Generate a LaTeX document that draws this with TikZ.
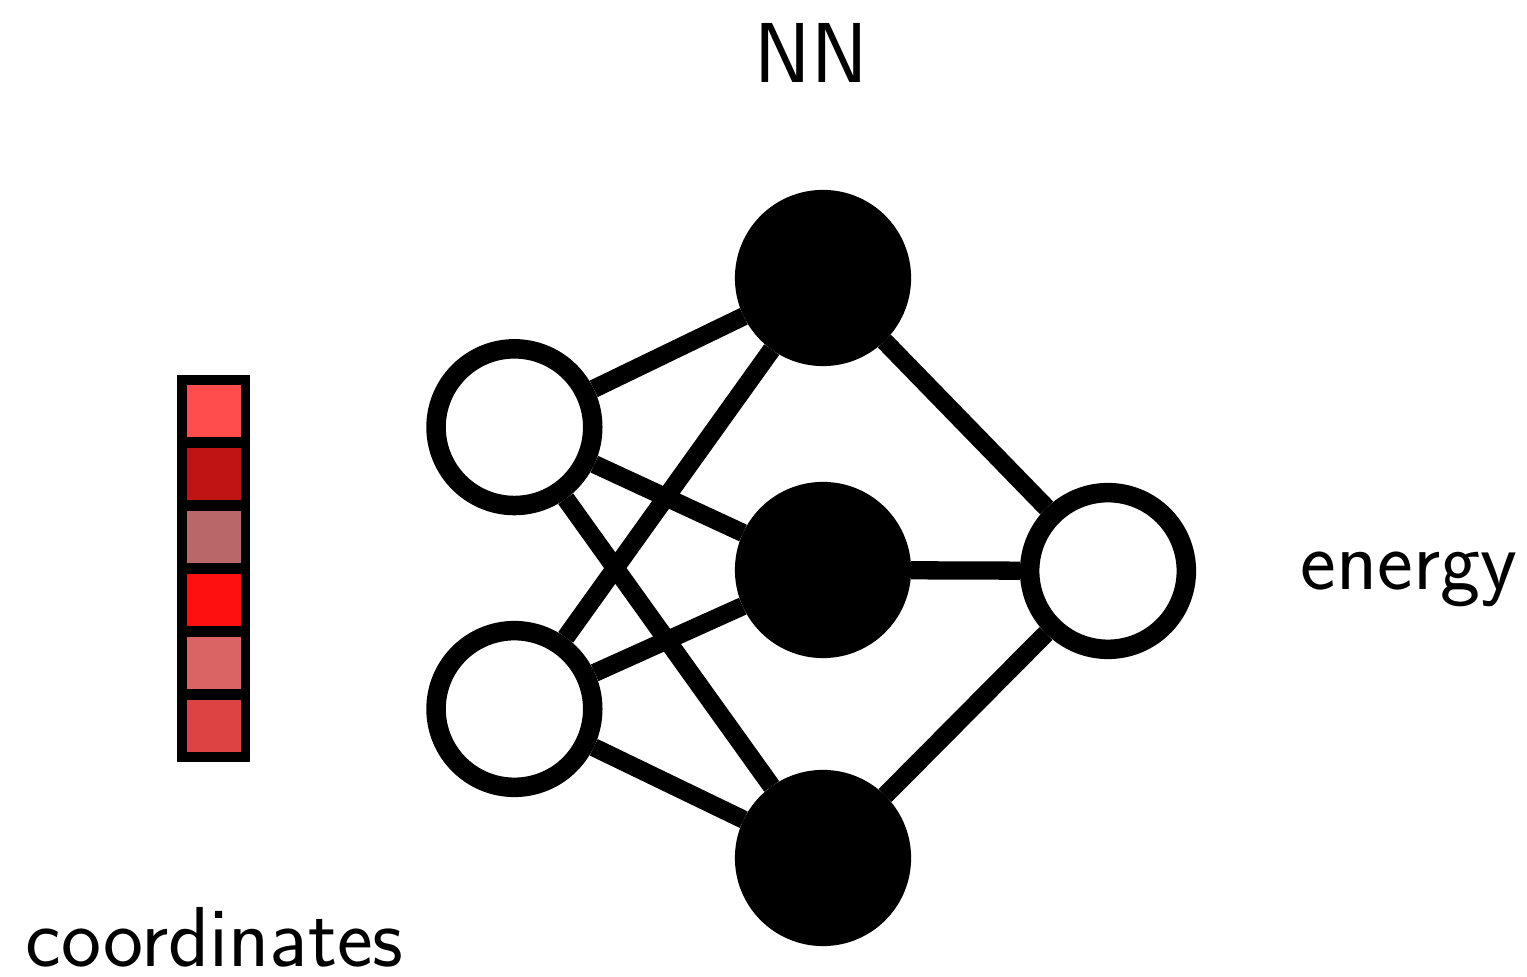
\documentclass[tikz,border=0pt]{standalone}
\usetikzlibrary{positioning}
\definecolor{sqA}{HTML}{FF4D4D}
\definecolor{sqB}{HTML}{BE1414}
\definecolor{sqC}{HTML}{B86868}
\definecolor{sqD}{HTML}{FF1010}
\definecolor{sqE}{HTML}{DA6464}
\definecolor{sqF}{HTML}{DC4444}
\tikzset{
  neuron/.style={circle, draw=black, line width=5.55pt, inner sep=0pt, minimum size=1.566cm, fill=white},
  hidden/.style={neuron, fill=black},
  conn/.style={line width=5.2pt, black},
  lbl/.style={font=\sffamily\fontsize{24.2}{29}\selectfont, inner sep=0pt},
  sq/.style={inner sep=0pt, minimum width=0.54cm, minimum height=0.52cm, draw=none}
}
\begin{document}
\begin{tikzpicture}[x=0.01cm, y=-0.01cm]
\useasboundingbox (0,0) rectangle (1527,977);
% input vector
\node[fill=black, inner sep=0pt, minimum width=0.73cm, minimum height=3.87cm] (vec) at (213.5,568.5) {};
\node[sq, fill=sqA] (c1) at (214,411) {};
\node[sq, fill=sqB] (c2) at (214,474) {};
\node[sq, fill=sqC] (c3) at (214,537) {};
\node[sq, fill=sqD] (c4) at (214,600) {};
\node[sq, fill=sqE] (c5) at (214,663) {};
\node[sq, fill=sqF] (c6) at (214,726) {};
% network
\node[neuron] (i1) at (514.4,427.2) {};
\node[neuron] (i2) at (514.4,709) {};
\node[hidden] (h1) at (823,278) {};
\node[hidden] (h2) at (823,570) {};
\node[hidden] (h3) at (823,858) {};
\node[neuron] (o) at (1108,571) {};
\foreach \a in {i1,i2}{\foreach \b in {h1,h2,h3}{\draw[conn] (\a) -- (\b);}}
\foreach \b in {h1,h2,h3}{\draw[conn] (\b) -- (o);}
% labels
\node[lbl, anchor=base] (nn) at (811,83) {NN};
\node[lbl, anchor=base west] (en) at (1300,590) {energy};
\node[lbl, anchor=base west] (co) at (25,967) {coordinates};
\end{tikzpicture}
\end{document}
